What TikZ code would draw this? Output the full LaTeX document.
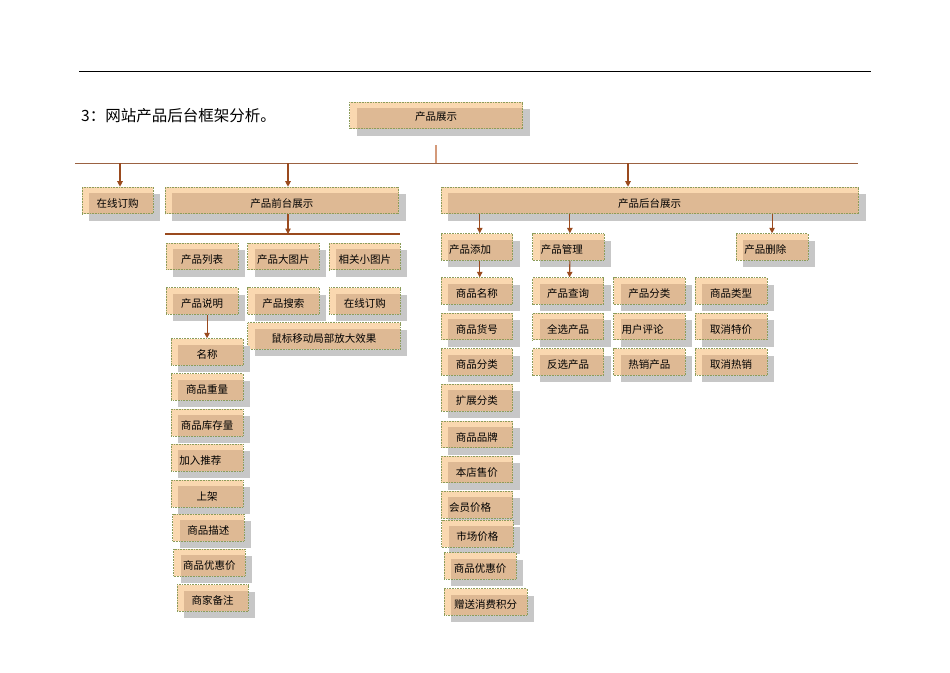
\documentclass[tikz,border=0pt]{standalone}
\usepackage{fontspec}
\newfontfamily\cjk{Noto Sans CJK SC}
\usetikzlibrary{arrows.meta, positioning, calc, shadows}
\definecolor{boxpeach}{HTML}{FAD8B0}
\definecolor{boxtan}{HTML}{DEB994}
\definecolor{boxedge}{HTML}{8C9C5A}
\definecolor{linkbrown}{HTML}{9A4A1E}
\definecolor{busbrown}{HTML}{9B6242}
\definecolor{stembrown}{HTML}{D49A7A}

\tikzset{
  pbox/.style={anchor=north west, draw=boxedge, densely dotted, line width=0.6pt,
    fill=boxpeach, minimum width=71.5pt, minimum height=26.7pt,
    inner xsep=6pt, inner ysep=0pt, text height=17pt, text depth=3.4pt,
    font=\cjk\fontsize{10.5}{12}\selectfont,
    drop shadow={shadow xshift=7pt, shadow yshift=-7pt, fill=black!22, opacity=1},
    path picture={\fill[boxtan] ([shift={(7pt,-6pt)}]path picture bounding box.north west)
      rectangle (path picture bounding box.south east);}},
  lbox/.style={pbox, inner xsep=8pt, text width=55.5pt, align=left},
  link/.style={-{Triangle[width=5.5pt,length=5.5pt]}, linkbrown, line width=1.1pt},
  busline/.style={busbrown, line width=0.9pt},
}

\begin{document}
\begin{tikzpicture}[x=1pt, y=-1pt]
  \useasboundingbox (0,0) rectangle (950,672);
  \draw[line width=1pt] (79,71.5) -- (870.5,71.5);
  \node[anchor=west, inner sep=0pt, font=\cjk\fontsize{15.5}{18}\selectfont] (title) at (81,116) {3：网站产品后台框架分析。};

  % top level
  \node[pbox, minimum width=173pt, text height=14.5pt] (cpzs) at (349.3,101.7) {产品展示};
  \coordinate (busL) at (75,163);
  \coordinate (busR) at (857.5,163);
  \coordinate (b1) at (120,163);
  \coordinate (b2) at (288,163);
  \coordinate (b3) at (628,163);
  \draw[busline] (busL) -- (busR);
  \draw[stembrown, line width=1.3pt] ([yshift=-16pt]cpzs.south) -- (cpzs.south |- busL);

  \node[pbox, minimum width=71pt] (zxdg) at (81.7,186.7) {在线订购};
  \node[pbox, minimum width=233.3pt] (qtzs) at (165,186.7) {产品前台展示};
  \node[pbox, minimum width=417.8pt] (htzs) at (440.5,186.7) {产品后台展示};
  \draw[link] (b1) -- (b1 |- zxdg.north);
  \draw[link] (b2) -- (b2 |- qtzs.north);
  \draw[link] (b3) -- (b3 |- htzs.north);

  % front end
  \coordinate (qL) at (165,234);
  \coordinate (qR) at (400,234);
  \draw[linkbrown, line width=1.8pt] (qL) -- (qR);
  \draw[link] (b2 |- qtzs.south) -- (b2 |- qL);
  \node[pbox] (cplb) at (166,242.7) {产品列表};
  \node[pbox] (cpdtp) at (247.3,242.7) {产品大图片};
  \node[pbox, minimum width=71pt] (xgxtp) at (329,242.7) {相关小图片};
  \node[pbox] (cpsm) at (166,287.3) {产品说明};
  \node[pbox] (cpss) at (247.3,287.3) {产品搜索};
  \node[pbox, minimum width=71pt] (zxdgq) at (329,287.3) {在线订购};
  \node[pbox, minimum width=152.7pt] (sbyd) at (247.3,322.3) {鼠标移动局部放大效果};
  \node[pbox] (mc) at (171,338.3) {名称};
  \node[pbox] (spzl) at (171,373.3) {商品重量};
  \node[pbox] (spkcl) at (171,409) {商品库存量};
  \node[lbox] (jrtj) at (171,444) {加入推荐};
  \node[pbox] (sj) at (171,480) {上架};
  \node[pbox] (spms) at (172.3,514) {商品描述};
  \node[pbox] (spyhj) at (173.3,549) {商品优惠价};
  \node[pbox, minimum width=71pt] (sjbz) at (176.7,584.3) {商家备注};
  \draw[link] (cpsm.south -| mc.north) -- (mc.north);

  % back end
  \node[lbox] (cptj) at (440.7,233.3) {产品添加};
  \node[lbox, text width=55pt] (cpgl) at (532.3,233.3) {产品管理};
  \node[lbox] (cpsc) at (736,233.3) {产品删除};
  \draw[link] ([xshift=3pt]cptj.north |- htzs.south) -- ([xshift=3pt]cptj.north);
  \draw[link] ([xshift=1.5pt]cpgl.north |- htzs.south) -- ([xshift=1.5pt]cpgl.north);
  \draw[link] (cpsc.north |- htzs.south) -- (cpsc.north);

  \node[pbox] (spmc) at (440.7,277.3) {商品名称};
  \node[pbox] (sphh) at (440.7,312.7) {商品货号};
  \node[pbox] (spfl) at (440.7,348.3) {商品分类};
  \node[pbox] (kzfl) at (440.7,384) {扩展分类};
  \node[pbox] (sppp) at (440.7,420.7) {商品品牌};
  \node[pbox] (bdsj) at (440.7,455.7) {本店售价};
  \node[lbox] (hyjg) at (440.7,491) {会员价格};
  \node[pbox] (scjg) at (441.3,520) {市场价格};
  \node[pbox] (spyhjh) at (444,552.3) {商品优惠价};
  \node[pbox, minimum width=82.7pt] (zsxf) at (444,588.3) {赠送消费积分};
  \draw[link] ([xshift=3pt]cptj.south) -- ([xshift=3pt]spmc.north);

  \node[pbox, minimum width=71pt] (cpcx) at (532.3,277.3) {产品查询};
  \node[pbox, minimum width=71pt] (qxcp) at (532.3,312.7) {全选产品};
  \node[pbox, minimum width=71pt] (fxcp) at (532.3,348.3) {反选产品};
  \draw[link] ([xshift=1.5pt]cpgl.south) -- ([xshift=1.5pt]cpcx.north);
  \node[pbox] (cpfl) at (613.3,277.3) {产品分类};
  \node[lbox] (yhpl) at (613.3,312.7) {用户评论};
  \node[pbox] (rxcp) at (613.3,348.3) {热销产品};
  \node[pbox] (splx) at (695,277.3) {商品类型};
  \node[pbox] (qxtj) at (695,312.7) {取消特价};
  \node[pbox] (qxrx) at (695,348.3) {取消热销};
\end{tikzpicture}
\end{document}
